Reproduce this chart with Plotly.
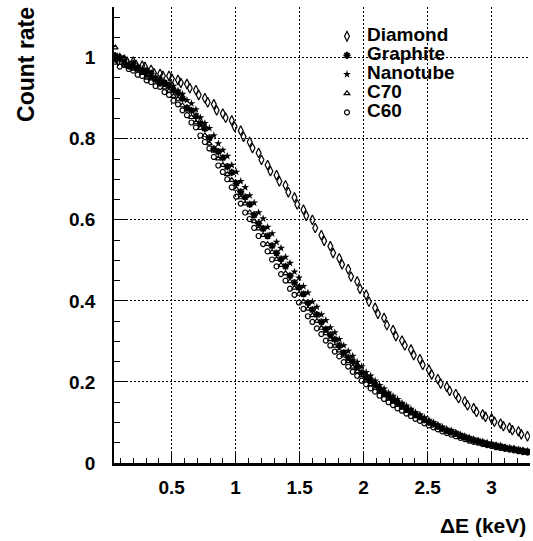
import plotly.graph_objects as go

# Energy loss grid (keV) shared by the four lower samples
energy_keV = [0.060, 0.095, 0.130, 0.165, 0.200, 0.235, 0.270, 0.305, 0.340, 0.375,
              0.410, 0.445, 0.480, 0.515, 0.550, 0.585, 0.620, 0.655, 0.690, 0.725,
              0.760, 0.795, 0.830, 0.865, 0.900, 0.935, 0.970, 1.005, 1.040, 1.075,
              1.110, 1.145, 1.180, 1.215, 1.250, 1.285, 1.320, 1.355, 1.390, 1.425,
              1.460, 1.495, 1.530, 1.565, 1.600, 1.635, 1.670, 1.705, 1.740, 1.775,
              1.810, 1.845, 1.880, 1.915, 1.950, 1.985, 2.020, 2.055, 2.090, 2.125,
              2.160, 2.195, 2.230, 2.265, 2.300, 2.335, 2.370, 2.405, 2.440, 2.475,
              2.510, 2.545, 2.580, 2.615, 2.650, 2.685, 2.720, 2.755, 2.790, 2.825,
              2.860, 2.895, 2.930, 2.965, 3.000, 3.035, 3.070, 3.105, 3.140, 3.175,
              3.210, 3.245, 3.280]

# Diamond points come in close pairs
diamond_keV = [0.060, 0.082, 0.130, 0.152, 0.200, 0.222, 0.270, 0.292, 0.340, 0.362,
               0.410, 0.432, 0.480, 0.502, 0.550, 0.572, 0.620, 0.642, 0.690, 0.712,
               0.760, 0.782, 0.830, 0.852, 0.900, 0.922, 0.970, 0.992, 1.040, 1.062,
               1.110, 1.132, 1.180, 1.202, 1.250, 1.272, 1.320, 1.342, 1.390, 1.412,
               1.460, 1.482, 1.530, 1.552, 1.600, 1.622, 1.670, 1.692, 1.740, 1.762,
               1.810, 1.832, 1.880, 1.902, 1.950, 1.972, 2.020, 2.042, 2.090, 2.112,
               2.160, 2.182, 2.230, 2.252, 2.300, 2.322, 2.370, 2.392, 2.440, 2.462,
               2.510, 2.532, 2.580, 2.602, 2.650, 2.672, 2.720, 2.742, 2.790, 2.812,
               2.860, 2.882, 2.930, 2.952, 3.000, 3.022, 3.070, 3.092, 3.140, 3.162,
               3.210, 3.232, 3.280]

diamond = [1.000, 0.992, 0.995, 0.990, 0.990, 0.982, 0.980, 0.977, 0.970, 0.962,
           0.960, 0.955, 0.955, 0.948, 0.945, 0.938, 0.935, 0.925, 0.920, 0.908,
           0.900, 0.890, 0.885, 0.870, 0.862, 0.852, 0.845, 0.830, 0.820, 0.805,
           0.792, 0.777, 0.765, 0.748, 0.735, 0.720, 0.710, 0.695, 0.685, 0.668,
           0.655, 0.638, 0.625, 0.610, 0.600, 0.580, 0.562, 0.548, 0.535, 0.518,
           0.505, 0.490, 0.478, 0.460, 0.448, 0.430, 0.415, 0.398, 0.383, 0.368,
           0.358, 0.340, 0.328, 0.313, 0.302, 0.290, 0.280, 0.266, 0.256, 0.242,
           0.230, 0.218, 0.207, 0.196, 0.188, 0.178, 0.170, 0.160, 0.152, 0.142,
           0.135, 0.126, 0.120, 0.114, 0.110, 0.102, 0.097, 0.091, 0.087, 0.081,
           0.078, 0.071, 0.066]

graphite = [1.005, 0.998, 0.986, 0.979, 0.986, 0.975, 0.967, 0.968, 0.961, 0.946,
            0.937, 0.938, 0.931, 0.920, 0.913, 0.899, 0.876, 0.870, 0.856, 0.838,
            0.825, 0.802, 0.775, 0.768, 0.753, 0.731, 0.717, 0.690, 0.669, 0.656,
            0.638, 0.612, 0.591, 0.578, 0.560, 0.536, 0.518, 0.503, 0.485, 0.462,
            0.445, 0.433, 0.417, 0.395, 0.378, 0.366, 0.348, 0.330, 0.316, 0.305,
            0.290, 0.272, 0.260, 0.250, 0.237, 0.223, 0.212, 0.204, 0.194, 0.182,
            0.173, 0.166, 0.158, 0.149, 0.142, 0.134, 0.127, 0.120, 0.115, 0.107,
            0.101, 0.097, 0.091, 0.085, 0.080, 0.077, 0.073, 0.068, 0.064, 0.060,
            0.056, 0.054, 0.051, 0.047, 0.045, 0.043, 0.041, 0.038, 0.036, 0.034,
            0.032, 0.030, 0.028]

nanotube = [0.995, 1.002, 0.992, 0.980, 0.975, 0.978, 0.972, 0.960, 0.952, 0.953,
            0.948, 0.938, 0.935, 0.930, 0.918, 0.910, 0.895, 0.887, 0.872, 0.852,
            0.838, 0.826, 0.808, 0.788, 0.772, 0.757, 0.735, 0.718, 0.695, 0.680,
            0.660, 0.642, 0.618, 0.603, 0.582, 0.566, 0.545, 0.530, 0.508, 0.493,
            0.472, 0.457, 0.436, 0.420, 0.398, 0.385, 0.366, 0.352, 0.334, 0.322,
            0.305, 0.290, 0.276, 0.264, 0.249, 0.238, 0.224, 0.215, 0.203, 0.192,
            0.183, 0.173, 0.165, 0.157, 0.148, 0.141, 0.133, 0.125, 0.119, 0.112,
            0.106, 0.100, 0.094, 0.089, 0.084, 0.080, 0.075, 0.070, 0.066, 0.063,
            0.059, 0.055, 0.052, 0.050, 0.047, 0.044, 0.042, 0.039, 0.037, 0.035,
            0.033, 0.031, 0.030]

c70 = [1.025, 1.004, 0.998, 0.985, 0.972, 0.970, 0.962, 0.950, 0.948, 0.945,
       0.940, 0.926, 0.918, 0.905, 0.898, 0.882, 0.872, 0.853, 0.840, 0.826,
       0.808, 0.788, 0.770, 0.751, 0.735, 0.712, 0.698, 0.676, 0.655, 0.640,
       0.618, 0.596, 0.578, 0.562, 0.540, 0.520, 0.503, 0.488, 0.468, 0.448,
       0.432, 0.417, 0.398, 0.380, 0.364, 0.350, 0.333, 0.320, 0.305, 0.289,
       0.277, 0.265, 0.251, 0.237, 0.226, 0.216, 0.205, 0.194, 0.185, 0.176,
       0.167, 0.158, 0.151, 0.143, 0.136, 0.128, 0.122, 0.115, 0.110, 0.103,
       0.098, 0.092, 0.087, 0.082, 0.077, 0.073, 0.069, 0.064, 0.061, 0.057,
       0.054, 0.051, 0.048, 0.045, 0.043, 0.040, 0.038, 0.036, 0.034, 0.032,
       0.030, 0.028, 0.027]

c60 = [0.990, 0.978, 0.982, 0.972, 0.968, 0.958, 0.955, 0.944, 0.940, 0.930,
       0.928, 0.915, 0.908, 0.894, 0.885, 0.870, 0.858, 0.840, 0.828, 0.808,
       0.792, 0.776, 0.755, 0.734, 0.718, 0.700, 0.680, 0.657, 0.640, 0.618,
       0.602, 0.580, 0.560, 0.540, 0.522, 0.502, 0.485, 0.466, 0.450, 0.430,
       0.415, 0.396, 0.380, 0.362, 0.348, 0.332, 0.318, 0.302, 0.290, 0.275,
       0.263, 0.249, 0.238, 0.225, 0.215, 0.203, 0.194, 0.184, 0.176, 0.166,
       0.158, 0.150, 0.143, 0.135, 0.129, 0.122, 0.116, 0.109, 0.104, 0.098,
       0.093, 0.088, 0.083, 0.078, 0.074, 0.070, 0.066, 0.062, 0.059, 0.055,
       0.052, 0.050, 0.047, 0.044, 0.042, 0.039, 0.037, 0.035, 0.033, 0.031,
       0.029, 0.027, 0.026]

x_tick_vals = [0.5, 1, 1.5, 2, 2.5, 3]
x_tick_text = ["0.5", "1", "1.5", "2", "2.5", "3"]
y_tick_vals = [0, 0.2, 0.4, 0.6, 0.8, 1]
y_tick_text = ["0", "0.2", "0.4", "0.6", "0.8", "1"]

series = [
    ("Diamond", diamond_keV, diamond, dict(symbol="diamond-tall-open", size=7, line=dict(width=1.2, color="black"))),
    ("Graphite", energy_keV, graphite, dict(symbol="asterisk-open", size=6, line=dict(width=1.8, color="black"))),
    ("Nanotube", energy_keV, nanotube, dict(symbol="star", size=6, color="black", line=dict(width=0))),
    ("C70", energy_keV, c70, dict(symbol="triangle-up-open", size=5, line=dict(width=1.2, color="black"))),
    ("C60", energy_keV, c60, dict(symbol="circle-open", size=5, line=dict(width=1.2, color="black"))),
]

FONT = "Liberation Sans, Arial, Helvetica, sans-serif"

fig = go.Figure()
for name, xs, vals, mk in series:
    mk = dict(mk)
    mk.setdefault("color", "black")
    fig.add_trace(go.Scatter(
        x=xs, y=vals, mode="markers", marker=mk,
        name='<span style="font-size:19px"><b>%s</b></span>' % name,
    ))

fig.update_layout(
    width=533, height=541, autosize=False,
    margin=dict(l=114, r=3, t=7, b=78),
    paper_bgcolor="white", plot_bgcolor="white",
    font=dict(family=FONT, color="black"),
    showlegend=True,
    legend=dict(x=0.512, y=0.9675, xanchor="left", yanchor="top",
                bgcolor="rgba(0,0,0,0)", borderwidth=0,
                font=dict(family=FONT, size=12, color="black"),
                itemwidth=30, tracegroupgap=0),
    xaxis=dict(
        range=[0.05, 3.3], tickmode="array", tickvals=x_tick_vals, ticktext=x_tick_text,
        ticks="inside", ticklen=10, tickwidth=1.2, tickcolor="black",
        tickfont=dict(family=FONT, size=19, color="black", weight="bold"),
        ticklabelstandoff=5,
        showline=True, linecolor="black", linewidth=3, mirror=False,
        showgrid=True, gridcolor="black", gridwidth=1, griddash="2px,2px",
        zeroline=False,
        minor=dict(dtick=0.1, tick0=0, ticks="inside", ticklen=5, tickwidth=1, tickcolor="black", showgrid=False),
    ),
    yaxis=dict(
        range=[0, 1.125], tickmode="array", tickvals=y_tick_vals, ticktext=y_tick_text,
        ticks="inside", ticklen=13, tickwidth=1.2, tickcolor="black",
        tickfont=dict(family=FONT, size=19, color="black", weight="bold"),
        ticklabelstandoff=13,
        showline=True, linecolor="black", linewidth=1.5, mirror=False,
        showgrid=True, gridcolor="black", gridwidth=1, griddash="2px,2px",
        zeroline=False,
        minor=dict(dtick=0.05, tick0=0, ticks="inside", ticklen=6, tickwidth=1, tickcolor="black", showgrid=False),
    ),
    annotations=[
        dict(text="Count rate", xref="paper", yref="paper", x=-0.2115, y=0.873,
             xanchor="center", yanchor="middle", textangle=-90, showarrow=False,
             font=dict(family=FONT, size=23, color="black", weight="bold")),
        dict(text="ΔE (keV)", xref="paper", yref="paper", x=0.995, y=-0.136,
             xanchor="right", yanchor="middle", showarrow=False,
             font=dict(family=FONT, size=21, color="black", weight="bold")),
    ],
)

fig.write_html("out.html", config={"displayModeBar": False},
               post_script="document.body.style.margin='0';")
